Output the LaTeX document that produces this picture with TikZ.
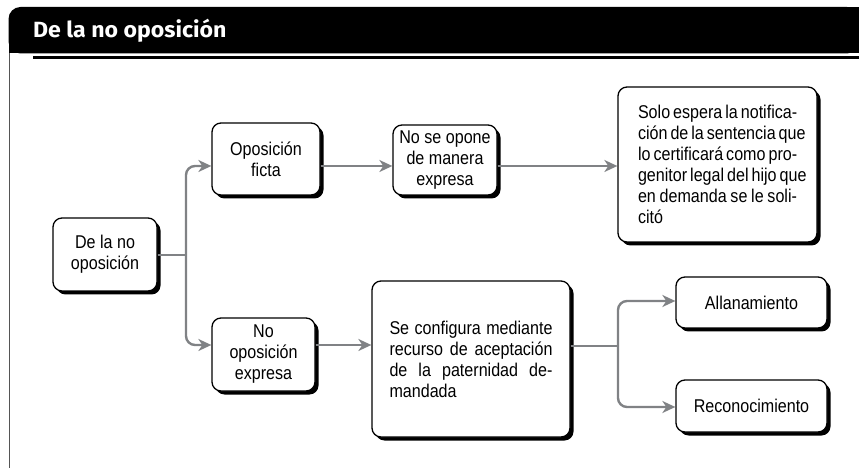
\documentclass[tikz,border=0pt]{standalone}
\usepackage{fontspec}
\setmainfont{Liberation Sans}[FakeStretch=0.87]
\newfontfamily\titlefont{Fira Sans}[FakeStretch=1.05]
\usetikzlibrary{arrows.meta,shadows,calc}

\definecolor{linkgray}{RGB}{128,130,133}
\definecolor{framegray}{RGB}{85,85,85}

\tikzset{
  box/.style={draw=black, line width=1.3bp, fill=white, rounded corners=9bp,
    inner sep=0pt, align=center, font=\fontsize{18.5bp}{21bp}\selectfont,
    drop shadow={shadow xshift=3.5bp, shadow yshift=-3.5bp, fill=black, opacity=1}},
  longtext/.style={align=left},
  conn/.style={draw=linkgray, line width=2.4bp, rounded corners=9bp},
  arr/.style={conn, -{Stealth[length=13bp, width=12bp, inset=4bp]}},
}

\newcommand{\jline}[1]{\makebox[159bp][s]{#1}}
\newcommand{\kline}[1]{\makebox[163bp][s]{#1}}

\begin{document}
\begin{tikzpicture}[x=1bp,y=-1bp]
\useasboundingbox (0,0) rectangle (859,468);

% frame: header bar, rule and left edge
\draw[framegray, line width=1.5bp] (9.25,50) -- (9.25,468);
\fill[black, rounded corners=12bp] (8.5,7) rectangle (859,53.5);
\fill[black] (30,7) rectangle (859,53.5);
\fill[black] (8.5,30) rectangle (859,53.5);
\fill[black] (33,56) rectangle (859,59);
\node[anchor=base west, text=white, inner sep=0pt,
      font=\titlefont\bfseries\fontsize{22bp}{22bp}\selectfont] (title) at (33,38) {De la no oposición};

% boxes
\node[box, minimum width=104bp, minimum height=73bp] (A) at (105,254.5) {De la no\\oposición};
\node[box, minimum width=108bp, minimum height=72bp] (B) at (266,159) {Oposición\\ficta};
\node[box, minimum width=104bp, minimum height=70bp] (C) at (445,160) {No se opone\\de manera\\expresa};
\node[box, longtext, minimum width=199bp, minimum height=155bp] (D) at (717.5,164.5)
  {\jline{Solo espera la notifica-}\\\jline{ción de la sentencia que}\\\jline{lo certificará como pro-}\\\jline{genitor legal del hijo que}\\\jline{en demanda se le soli-}\\citó};
\node[box, longtext, minimum width=198bp, minimum height=156bp] (F) at (471,359)
  {\kline{Se configura mediante}\\\kline{recurso de aceptación}\\\kline{de la paternidad de-}\\mandada};
\node[box, minimum width=103bp, minimum height=73bp] (E) at (263.5,354.5) {No\\oposición\\expresa};
\node[box, minimum width=151bp, minimum height=51bp] (G) at (751.5,302.5) {Allanamiento};
\node[box, minimum width=151bp, minimum height=52bp] (H) at (751.5,406) {Reconocimiento};

% branch points
\coordinate (j1) at (186,255);
\coordinate (j2) at (618,346);

% connectors
\draw[conn] (A.east |- j1) -- (j1);
\draw[arr] (j1) |- ([yshift=-7bp]B.west);
\draw[arr] (j1) |- ([yshift=9.5bp]E.west);
\draw[arr] ([yshift=-7bp]B.east) -- ([yshift=-7bp]B.east -| C.west);
\draw[arr] ([yshift=-6bp]C.east) -- ([yshift=-6bp]C.east -| D.west);
\draw[arr] ([yshift=9.5bp]E.east) -- ([yshift=9.5bp]E.east -| F.west);
\draw[conn] (F.east |- j2) -- (j2);
\draw[arr] (j2) |- ([yshift=1.5bp]G.west);
\draw[arr] (j2) |- ([yshift=-1bp]H.west);
\end{tikzpicture}
\end{document}
